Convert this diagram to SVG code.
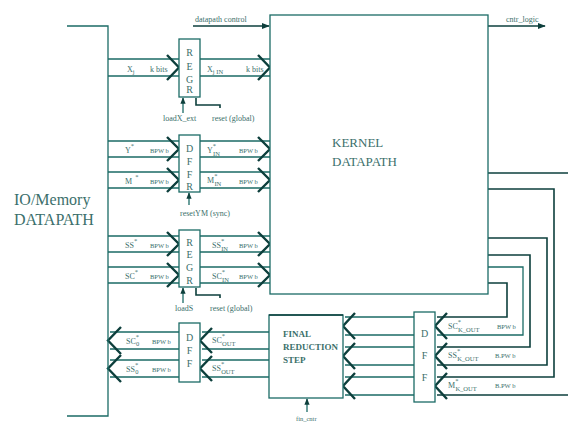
<svg xmlns="http://www.w3.org/2000/svg" width="568" height="422" viewBox="0 0 568 422">
<defs>
<style>
.ln{fill:none;stroke:#1b6b66;stroke-width:1.3}
.dk{fill:none;stroke:#0d3f3c;stroke-width:1.6}
.ch{fill:none;stroke:#0d3f3c;stroke-width:2.4;stroke-linejoin:miter}
.box{fill:#fff;stroke:#1b6b66;stroke-width:1.3}
.t{font-family:"Liberation Serif",serif;fill:#3b6f6b}
.s{font-size:8px}
.xs{font-size:6.5px}
.lt{font-size:10px;text-anchor:middle}
.big{font-size:16px}
.k{font-size:13px}
.fr{font-size:9px;font-weight:bold}
</style>
<marker id="ah" viewBox="0 0 10 10" refX="9" refY="5" markerWidth="5" markerHeight="5" orient="auto">
<path d="M0,1 L10,5 L0,9 z" fill="#0d3f3c"/>
</marker>
</defs>
<rect width="568" height="422" fill="#fff"/>

<g id="connectors">
<line class="dk" x1="193" y1="26" x2="269" y2="26" marker-end="url(#ah)"/>
<line class="dk" x1="488" y1="26" x2="545" y2="26" marker-end="url(#ah)"/>
<line class="ln" x1="183" y1="113" x2="183" y2="98" marker-end="url(#ah)"/>
<polyline class="dk" points="196,98 196,105 220,105 220,108"/>
<line class="ln" x1="189" y1="205" x2="189" y2="193" marker-end="url(#ah)"/>
<line class="ln" x1="183" y1="303" x2="183" y2="288" marker-end="url(#ah)"/>
<polyline class="dk" points="196,288 196,295 220,295 220,298"/>
<line class="ln" x1="307" y1="412" x2="307" y2="399" marker-end="url(#ah)"/>

<path class="ln" d="M108,59H179M108,76H179M108,141H179M108,157H179M108,172H179M108,188H179M108,236H179M108,252H179M108,267H179M108,283H179"/>
<polyline class="ch" points="167,55 179,67.5 167,80"/>
<polyline class="ch" points="167,137 179,149 167,161"/>
<polyline class="ch" points="167,168 179,180 167,192"/>
<polyline class="ch" points="167,232 179,244 167,256"/>
<polyline class="ch" points="167,263 179,275 167,287"/>

<path class="ln" d="M200,59H270M200,76H270M200,141H270M200,157H270M200,172H270M200,188H270M200,236H270M200,252H270M200,267H270M200,283H270"/>
<polyline class="ch" points="258,55 270,67.5 258,80"/>
<polyline class="ch" points="258,137 270,149 258,161"/>
<polyline class="ch" points="258,168 270,180 258,192"/>
<polyline class="ch" points="258,232 270,244 258,256"/>
<polyline class="ch" points="258,263 270,275 258,287"/>

<path class="dk" d="M488,173H568"/>
<path class="dk" d="M488,189H554V377H437"/>
<path class="dk" d="M488,238H547V365H437"/>
<path class="dk" d="M488,255H530V347H437"/>
<path class="ln" d="M488,267H523V335H437"/>
<path class="dk" d="M488,283H507V317H437"/>
<path class="dk" d="M568,395H437"/>
<polyline class="ch" points="447,313 435,326 447,339"/>
<polyline class="ch" points="447,343 435,356 447,369"/>
<polyline class="ch" points="447,373 435,386 447,399"/>

<path class="ln" d="M414,317H345M414,335H345M414,347H345M414,365H345M414,377H345M414,395H345"/>
<polyline class="ch" points="355,313 343,326 355,339"/>
<polyline class="ch" points="355,343 343,356 355,369"/>
<polyline class="ch" points="355,373 343,386 355,399"/>

<path class="ln" d="M269,332H202M269,349H202M269,360H202M269,377H202"/>
<polyline class="ch" points="212,328 200,340.5 212,353"/>
<polyline class="ch" points="212,356 200,368.5 212,381"/>

<path class="ln" d="M179,332H110M179,349H110M179,360H110M179,377H110"/>
<polyline class="ch" points="121,327 108,340.5 121,354"/>
<polyline class="ch" points="121,355 108,368.5 121,382"/>
</g>

<g id="io">
<polyline class="ln" points="67,26 108,26 108,416 67,416"/>
<text class="t big" x="14" y="205">IO/Memory</text>
<text class="t big" x="14" y="225">DATAPATH</text>
</g>

<g id="kernel">
<rect class="box" x="270" y="15" width="218" height="279"/>
<text class="t k" x="332" y="147">KERNEL</text>
<text class="t k" x="332" y="166">DATAPATH</text>
</g>

<g id="reg1">
<rect class="box" x="179" y="39" width="21" height="58"/>
<text class="t lt" x="189.5" y="56">R</text>
<text class="t lt" x="189.5" y="70">E</text>
<text class="t lt" x="189.5" y="83">G</text>
<text class="t lt" x="189.5" y="93">R</text>
</g>

<g id="dffr">
<rect class="box" x="179" y="135" width="21" height="57"/>
<text class="t lt" x="189.5" y="152">D</text>
<text class="t lt" x="189.5" y="165">F</text>
<text class="t lt" x="189.5" y="178">F</text>
<text class="t lt" x="189.5" y="190">R</text>
</g>

<g id="reg2">
<rect class="box" x="179" y="230" width="21" height="57"/>
<text class="t lt" x="189.5" y="246">R</text>
<text class="t lt" x="189.5" y="258">E</text>
<text class="t lt" x="189.5" y="271">G</text>
<text class="t lt" x="189.5" y="284">R</text>
</g>

<g id="dff-left">
<rect class="box" x="179" y="323" width="21" height="59"/>
<text class="t lt" x="189.5" y="341">D</text>
<text class="t lt" x="189.5" y="354">F</text>
<text class="t lt" x="189.5" y="367">F</text>
</g>

<g id="final-reduction">
<rect class="box" x="269" y="315" width="74" height="83"/>
<line class="dk" x1="269" y1="315" x2="343" y2="315"/>
<text class="t fr" x="283" y="337">FINAL</text>
<text class="t fr" x="283" y="350">REDUCTION</text>
<text class="t fr" x="283" y="363">STEP</text>
</g>

<g id="dff-right">
<rect class="box" x="414" y="312" width="21" height="90"/>
<text class="t lt" x="424.5" y="337">D</text>
<text class="t lt" x="424.5" y="359">F</text>
<text class="t lt" x="424.5" y="381">F</text>
</g>

<g id="labels">
<text class="t s" x="195" y="22">datapath control</text>
<text class="t s" x="506" y="22">cntr_logic</text>
<text class="t s" x="163" y="121">loadX_ext</text>
<text class="t s" x="212" y="121">reset (global)</text>
<text class="t s" x="180" y="216">resetYM (sync)</text>
<text class="t s" x="175" y="311">loadS</text>
<text class="t s" x="210" y="311">reset (global)</text>
<text class="t xs" x="296" y="421">fin_cntr</text>

<text class="t s" x="127" y="72">X<tspan class="xs" dy="2">j</tspan></text>
<text class="t s" x="150" y="72">k bits</text>
<text class="t s" x="207" y="72">X<tspan class="xs" dy="2">j IN</tspan></text>
<text class="t s" x="246" y="72">k bits</text>

<text class="t s" x="125" y="153">Y<tspan class="xs" dy="-5">*</tspan></text>
<text class="t xs" x="150" y="153">BPW b</text>
<text class="t s" x="207" y="153">Y<tspan class="xs" dy="-5">*</tspan><tspan class="xs" dx="-3" dy="8">IN</tspan></text>
<text class="t xs" x="239" y="153">BPW b</text>

<text class="t s" x="125" y="184">M<tspan class="xs" dx="3" dy="-5">*</tspan></text>
<text class="t xs" x="150" y="184">BPW b</text>
<text class="t s" x="207" y="183">M<tspan class="xs" dy="-5">*</tspan><tspan class="xs" dx="-3" dy="8">IN</tspan></text>
<text class="t xs" x="239" y="184">BPW b</text>

<text class="t s" x="125" y="248">SS<tspan class="xs" dy="-5">*</tspan></text>
<text class="t xs" x="150" y="248">BPW b</text>
<text class="t s" x="212" y="248">SS<tspan class="xs" dy="-5">*</tspan><tspan class="xs" dx="-3" dy="8">IN</tspan></text>
<text class="t xs" x="239" y="248">BPW b</text>

<text class="t s" x="125" y="279">SC<tspan class="xs" dy="-5">*</tspan></text>
<text class="t xs" x="150" y="279">BPW b</text>
<text class="t s" x="212" y="279">SC<tspan class="xs" dy="-5">*</tspan><tspan class="xs" dx="-3" dy="8">IN</tspan></text>
<text class="t xs" x="239" y="279">BPW b</text>

<text class="t s" x="126" y="344">SC<tspan class="xs" dy="-5">*</tspan><tspan class="xs" dx="-3" dy="7">0</tspan></text>
<text class="t xs" x="152" y="344">BPW b</text>
<text class="t s" x="126" y="372">SS<tspan class="xs" dy="-5">*</tspan><tspan class="xs" dx="-3" dy="7">0</tspan></text>
<text class="t xs" x="152" y="372">BPW b</text>

<text class="t s" x="212" y="343">SC<tspan class="xs" dy="-5">*</tspan><tspan class="xs" dx="-3" dy="8">OUT</tspan></text>
<text class="t s" x="212" y="371">SS<tspan class="xs" dy="-5">*</tspan><tspan class="xs" dx="-3" dy="8">OUT</tspan></text>

<text class="t s" x="448" y="329">SC<tspan class="xs" dy="-5">*</tspan><tspan class="xs" dx="-3" dy="8">K_OUT</tspan></text>
<text class="t xs" x="497" y="329">BPW b</text>
<text class="t s" x="448" y="358">SS<tspan class="xs" dy="-5">*</tspan><tspan class="xs" dx="-3" dy="8">K_OUT</tspan></text>
<text class="t xs" x="495" y="358">B.PW b</text>
<text class="t s" x="448" y="388">M<tspan class="xs" dy="-5">*</tspan><tspan class="xs" dx="-3" dy="8">K_OUT</tspan></text>
<text class="t xs" x="495" y="388">B.PW b</text>
</g>
</svg>
